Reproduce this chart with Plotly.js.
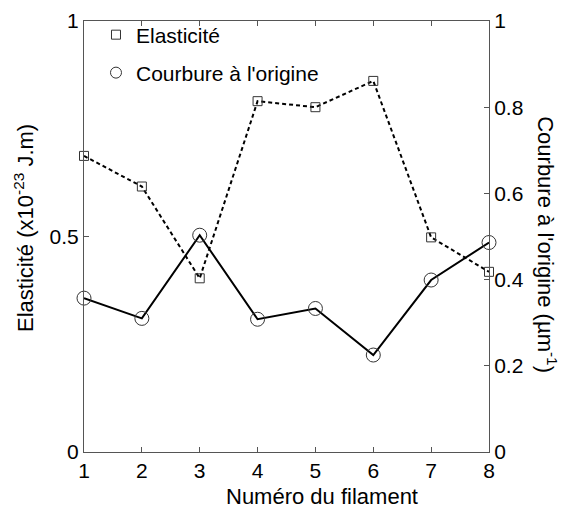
<!DOCTYPE html>
<html>
<head>
<meta charset="utf-8">
<script src="https://cdn.plot.ly/plotly-3.0.1.min.js"></script>
<style>html,body{margin:0;padding:0;background:#fff;}#chart{width:564px;height:513px;}</style>
</head>
<body>
<div id="chart"></div>
<script>
const filaments = [1, 2, 3, 4, 5, 6, 7, 8];
const elasticite = [0.687, 0.616, 0.403, 0.814, 0.800, 0.861, 0.498, 0.418];
const courbure = [0.357, 0.310, 0.503, 0.308, 0.333, 0.225, 0.399, 0.486];
const xTicks = [1, 2, 3, 4, 5, 6, 7, 8];
const yLeftTicks = [0, 0.5, 1];
const yRightTicks = [0, 0.2, 0.4, 0.6, 0.8, 1];
const nameElas = "Elasticité";
const nameCourb = "Courbure à l'origine";

const FONT = "Liberation Sans, Arial, sans-serif";
const AX = "#555";
const TICKF = {family: FONT, size: 21, color: '#000'};
const TITLEF = {family: FONT, size: 22, color: '#000'};

const traces = [
  {
    x: filaments, y: elasticite, yaxis: 'y', mode: 'lines+markers',
    line: {color: '#000', width: 2, dash: '4px,3px'},
    marker: {symbol: 'square-open', size: 9, color: '#333', line: {width: 1, color: '#333'}},
    showlegend: false, cliponaxis: false, name: nameElas
  },
  {
    x: filaments, y: courbure, yaxis: 'y2', mode: 'lines+markers',
    line: {color: '#000', width: 2},
    marker: {symbol: 'circle-open', size: 14, color: '#333', line: {width: 1, color: '#333'}},
    showlegend: false, cliponaxis: false, name: nameCourb
  },
  {
    x: [null], y: [null], mode: 'markers', name: nameElas, legend: 'legend',
    marker: {symbol: 'square-open', size: 9, color: '#333', line: {width: 1}}
  },
  {
    x: [null], y: [null], mode: 'markers', name: nameCourb, legend: 'legend2',
    marker: {symbol: 'circle-open', size: 11, color: '#333', line: {width: 1}}
  }
];

const layout = {
  width: 564, height: 513,
  margin: {l: 84, r: 75, t: 21, b: 61},
  paper_bgcolor: '#fff', plot_bgcolor: '#fff',
  font: {family: FONT, size: 21, color: '#000'},
  xaxis: {
    range: [1, 8], tickvals: xTicks, ticktext: xTicks.map(String),
    ticks: 'inside', ticklen: 5, tickcolor: AX, showline: true, linecolor: AX, linewidth: 1,
    mirror: 'ticks', showgrid: false, zeroline: false, tickfont: TICKF
  },
  yaxis: {
    range: [0, 1], tickvals: yLeftTicks, ticktext: ['0', '0.5', '1'],
    ticks: 'inside', ticklen: 5, tickcolor: AX, showline: true, linecolor: AX, linewidth: 1,
    showgrid: false, zeroline: false, tickfont: TICKF
  },
  yaxis2: {
    range: [0, 1], tickvals: yRightTicks, ticktext: ['0', '0.2', '0.4', '0.6', '0.8', '1'],
    overlaying: 'y', side: 'right',
    ticks: 'inside', ticklen: 5, tickcolor: AX, showline: true, linecolor: AX, linewidth: 1,
    showgrid: false, zeroline: false, tickfont: TICKF
  },
  legend: {
    x: 0.0296, y: 0.9675, xanchor: 'left', yanchor: 'middle',
    bgcolor: 'rgba(0,0,0,0)', borderwidth: 0, font: TICKF
  },
  legend2: {
    x: 0.0296, y: 0.8794, xanchor: 'left', yanchor: 'middle',
    bgcolor: 'rgba(0,0,0,0)', borderwidth: 0, font: TICKF
  },
  annotations: [
    {text: 'Elasticité (x10<sup>-23</sup> J.m)', xref: 'paper', yref: 'paper',
     x: -0.148, y: 0.520, xanchor: 'center', yanchor: 'middle', textangle: -90,
     showarrow: false, font: TITLEF},
    {text: "Courbure à l'origine (µm<sup>-1</sup>)", xref: 'paper', yref: 'paper',
     x: 1.143, y: 0.480, xanchor: 'center', yanchor: 'middle', textangle: 90,
     showarrow: false, font: TITLEF},
    {text: 'Numéro du filament', xref: 'paper', yref: 'paper',
     x: 0.588, y: -0.104, xanchor: 'center', yanchor: 'middle',
     showarrow: false, font: TITLEF}
  ]
};

Plotly.newPlot('chart', traces, layout, {displayModeBar: false, staticPlot: true});
</script>
</body>
</html>
